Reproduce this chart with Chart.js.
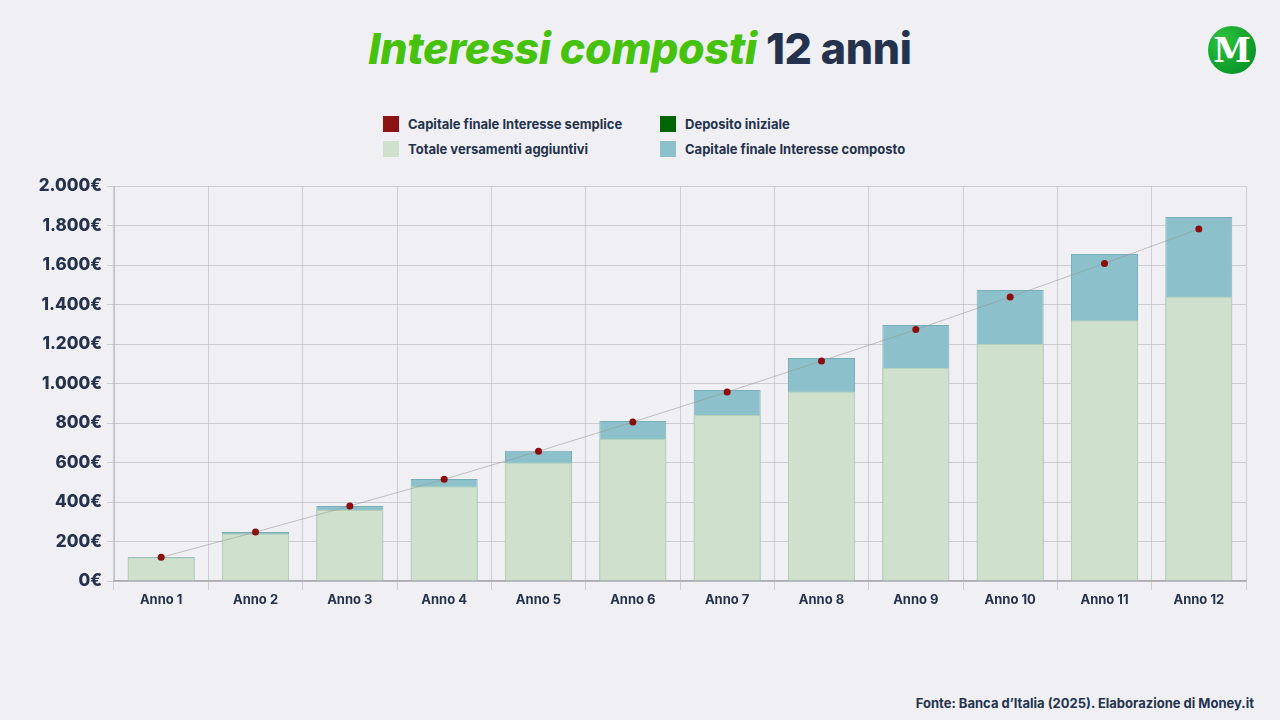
<!DOCTYPE html>
<html><head><meta charset="utf-8">
<script src="https://cdn.jsdelivr.net/npm/chart.js@4/dist/chart.umd.min.js"></script>
<style>
html,body{margin:0;padding:0;}
body{width:1280px;height:720px;background:#f0f0f4;position:relative;overflow:hidden;font-family:Inter,"Open Sans",sans-serif;color:#24324d;}
#title{position:absolute;left:0;width:1280px;top:22px;text-align:center;font-size:43px;font-weight:800;letter-spacing:-0.3px;}
#title .g{color:#46c20c;font-style:italic;}
#logo{position:absolute;left:1208px;top:26px;width:48px;height:48px;border-radius:50%;background:radial-gradient(circle at 30% 30%,#2fc33c,#0a9a2a 70%,#07882a);color:#fff;font-family:"DejaVu Serif","Liberation Serif",serif;font-weight:bold;font-size:34px;line-height:48px;text-align:center;}
#legend{position:absolute;left:383px;top:116px;display:grid;grid-template-columns:277px 260px;row-gap:9px;font-size:13px;font-weight:700;}
#legend div{display:flex;align-items:center;height:16px;}
#legend span{display:inline-block;width:16px;height:16px;margin-right:9px;}
#foot{position:absolute;right:26px;top:695px;font-size:13px;font-weight:700;}
#wrap{position:absolute;left:0;top:0;width:1280px;height:720px;}
</style></head><body>
<div id="title"><span class="g">Interessi composti</span> 12 anni</div>
<div id="logo">M</div>
<div id="legend">
<div><span style="background:#8b1313"></span>Capitale finale Interesse semplice</div>
<div><span style="background:#006400"></span>Deposito iniziale</div>
<div><span style="background:#cfe1cc"></span>Totale versamenti aggiuntivi</div>
<div><span style="background:#8cc0ca"></span>Capitale finale Interesse composto</div>
</div>
<div id="foot">Fonte: Banca d’Italia (2025). Elaborazione di Money.it</div>
<div id="wrap"><canvas id="c" width="1280" height="720"></canvas></div>
<script>
const categories = ["Anno 1","Anno 2","Anno 3","Anno 4","Anno 5","Anno 6","Anno 7","Anno 8","Anno 9","Anno 10","Anno 11","Anno 12"];
const depositoIniziale = [0,0,0,0,0,0,0,0,0,0,0,0];
const versamentiAggiuntivi = [120,240,360,480,600,720,840,960,1080,1200,1320,1440];
const capitaleComposto = [122,248,380,516,660,810,967,1129,1296,1473,1656,1843];
const capitaleSemplice = [120,248,380,515,657,805,957,1114,1273,1438,1608,1782];
const yTicks = [0,200,400,600,800,1000,1200,1400,1600,1800,2000];

const fmt = v => v.toLocaleString('de-DE') + '€';
const navy = '#24324d';
new Chart(document.getElementById('c'), {
  type: 'bar',
  data: {
    labels: categories,
    datasets: [
      {type:'line', label:'Capitale finale Interesse semplice', data:capitaleSemplice, order:0,
       borderColor:'rgba(150,150,150,0.55)', borderWidth:1, pointRadius:3.5, pointHoverRadius:3.5,
       pointBackgroundColor:'#8b0d0d', pointBorderColor:'#8b0d0d', pointBorderWidth:0, fill:false, tension:0},
      {label:'Deposito iniziale', data:depositoIniziale, backgroundColor:'#006400', order:1,
       categoryPercentage:1, barPercentage:0.71},
      {label:'Totale versamenti aggiuntivi', data:versamentiAggiuntivi, backgroundColor:'#cfe1cc',
       borderColor:'#b7cfb5', borderWidth:1, order:2, categoryPercentage:1, barPercentage:0.71},
      {label:'Capitale finale Interesse composto', data:capitaleComposto, backgroundColor:'#8cc0ca',
       borderColor:'#79aeb8', borderWidth:1, order:3, categoryPercentage:1, barPercentage:0.71}
    ]
  },
  options: {
    responsive:false, animation:false, devicePixelRatio:1,
    layout:{padding:{top:186,right:34,bottom:0,left:0}},
    plugins:{legend:{display:false}, tooltip:{enabled:false}},
    scales:{
      x:{stacked:true, offset:true,
         grid:{offset:true, color:'rgba(180,180,188,0.6)', tickLength:9, drawTicks:true},
         border:{color:'#a8a8ae', width:1.5},
         ticks:{color:navy, font:{family:'Inter', size:13, weight:'700'}, padding:2},
         afterFit: s => { s.height = 139; }},
      y:{stacked:false, min:0, max:2000,
         afterBuildTicks: s => { s.ticks = yTicks.map(v => ({value:v})); },
         grid:{color:'rgba(180,180,188,0.6)', tickLength:7},
         border:{color:'rgba(180,180,188,0.8)'},
         ticks:{color:navy, font:{family:'Inter', size:17, weight:'800'}, padding:5, callback:v=>fmt(v)},
         afterFit: s => { s.width = 114; }}
    }
  }
});
</script>
</body></html>
